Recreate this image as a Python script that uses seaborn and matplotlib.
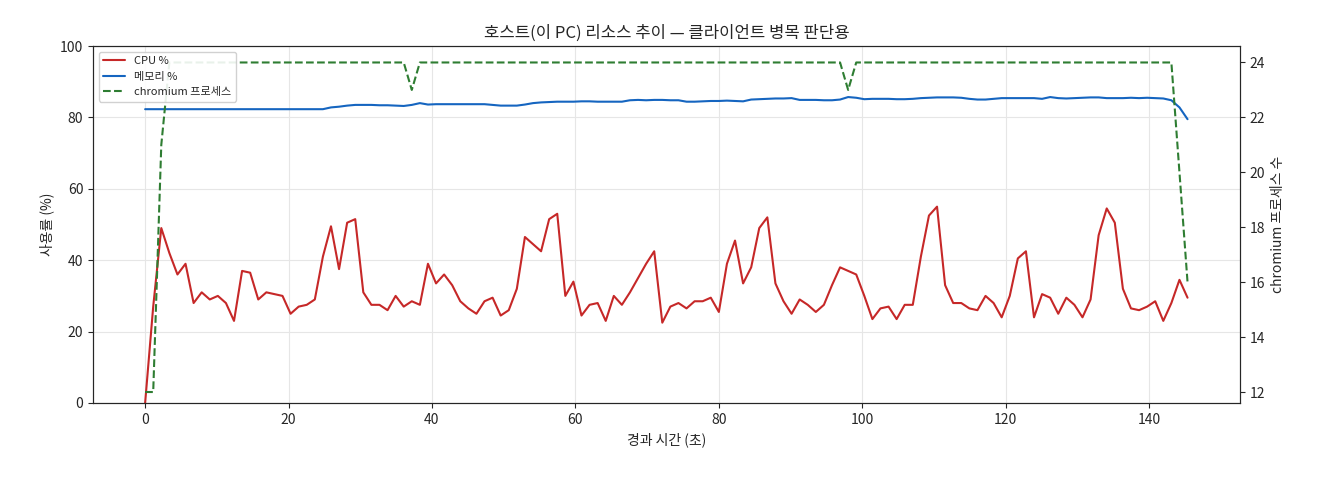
import numpy as np
import pandas as pd
import matplotlib
matplotlib.use("Agg")
import matplotlib.pyplot as plt
import seaborn as sns

cpu = [0,27,49,42,36,39,28,31,29,30,28,23,37,36.5,29,31,30.5,30,25,27,27.5,29,41,49.5,37.5,50.5,51.5,31,27.5,27.5,
       26,30,27,28.5,27.5,39,33.5,36,33,28.5,26.5,25,28.5,29.5,24.5,26,32,46.5,44.5,42.5,51.5,53,30,34,24.5,27.5,28,23,30,27.5,
       31,35,39,42.5,22.5,27,28,26.5,28.5,28.5,29.5,25.5,39,45.5,33.5,38,49,52,33.5,28.5,25,29,27.5,25.5,27.5,33,38,37,36,30,
       23.5,26.5,27,23.5,27.5,27.5,41,52.5,55,33,28,28,26.5,26,30,28,24,30,40.5,42.5,24,30.5,29.5,25,29.5,27.5,24,29,47,54.5,
       50.5,32,26.5,26,27,28.5,23,28,34.5,29.5]
mem = ([82.3]*23 + [82.8,83.0,83.3,83.5] + [83.5,83.5,83.4,83.4,83.3,83.2] + [83.5,84.0,83.6] + [83.7]*7
       + [83.5,83.3,83.3,83.3,83.6,84.0]
       + [84.2,84.3,84.4,84.4,84.4,84.5,84.5,84.4,84.4,84.4,84.4,84.8]
       + [84.9,84.8,84.9,84.9,84.8,84.8,84.4,84.4,84.5,84.6]
       + [84.6,84.7,84.6,84.5,85.0,85.1,85.2,85.3,85.3,85.4]
       + [84.9,84.9,84.9,84.8,84.8,85.0] + [85.7,85.5]
       + [85.1,85.2,85.2,85.2,85.1,85.1,85.2,85.4,85.5,85.6,85.6,85.6]
       + [85.5,85.2,85.0,85.0,85.2,85.4,85.4,85.4,85.4,85.4,85.2,85.7]
       + [85.4,85.3,85.4,85.5,85.6,85.6,85.4,85.4,85.4,85.5,85.4,85.5,85.4,85.3,84.8,82.8,79.5])
procs = [12,12,21] + [24]*30 + [23] + [24]*53 + [23] + [24]*40 + [20,16]
t = np.arange(len(cpu)) * 1.127

df = pd.DataFrame({"t": t, "cpu": cpu, "mem": mem, "procs": procs})

sns.set_theme(style="ticks", rc={"axes.linewidth": 0.8, "xtick.major.width": 0.8, "ytick.major.width": 0.8,
                                 "xtick.major.size": 3.5, "ytick.major.size": 3.5})
plt.rcParams['font.family'] = ['Noto Sans CJK KR', 'DejaVu Sans']

fig = plt.figure(figsize=(13.2, 4.8), dpi=100)
ax = fig.add_axes([93/1320, 1-403/480, (1240-93)/1320, (403-46)/480])
ax2 = ax.twinx()

sns.lineplot(data=df, x="t", y="cpu", ax=ax, color="#c62828", lw=1.5, label="CPU %", legend=False)
sns.lineplot(data=df, x="t", y="mem", ax=ax, color="#1565c0", lw=1.5, label="메모리 %", legend=False)
sns.lineplot(data=df, x="t", y="procs", ax=ax2, color="#2e7d32", lw=1.5, linestyle="--", label="chromium 프로세스", legend=False)

ax.set_ylim(0, 100)
ax.set_xlim(-7.27, 152.7)
ax2.set_ylim(11.6, 24.6)
ax.grid(True, color="#e6e6e6", lw=0.8)
ax.set_xlabel("경과 시간 (초)", fontsize=10)
ax.set_ylabel("사용률 (%)", fontsize=10)
ax2.set_ylabel("chromium 프로세스 수", fontsize=10)
ax.set_title("호스트(이 PC) 리소스 추이 — 클라이언트 병목 판단용", fontsize=12)
for a in (ax, ax2):
    a.tick_params(labelsize=10)

h1, l1 = ax.get_legend_handles_labels()
h2, l2 = ax2.get_legend_handles_labels()
ax2.legend(h1 + h2, l1 + l2, loc="upper left", fontsize=8, framealpha=0.9)

fig.savefig("out.png", dpi=100)
